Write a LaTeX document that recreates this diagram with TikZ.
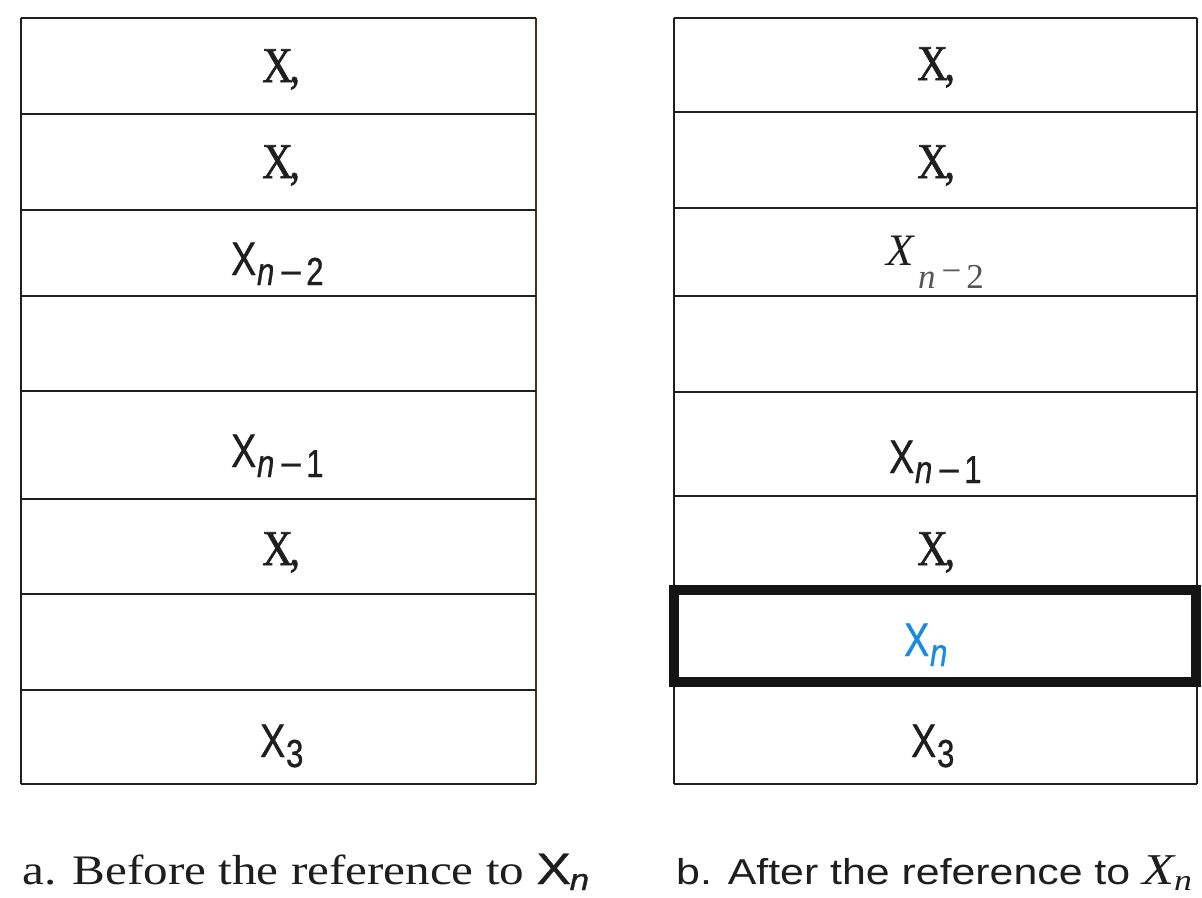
\documentclass[tikz,border=0pt]{standalone}
\usepackage{fontspec}
\setmainfont{Liberation Serif}
\setsansfont{Liberation Sans}
\newfontfamily\boldserif[FakeBold=1.2]{Liberation Serif}
\newfontfamily\boldsans[FakeBold=0.8]{Liberation Sans}
\definecolor{ink}{RGB}{30,30,30}
\definecolor{subgray}{RGB}{85,85,85}
\definecolor{xblue}{RGB}{25,140,225}
\definecolor{olive}{RGB}{60,55,20}
\newcommand{\sansX}[1]{{\boldsans X\kern1pt\raisebox{-10pt}{\fontsize{39}{39}\selectfont #1}}}
\newcommand{\subminus}{\kern9pt\upshape\raisebox{2pt}{\scalebox{1.1}[1]{–}}\kern7pt}
\begin{document}
\begin{tikzpicture}[x=1pt,y=-1pt,
  rule/.style={draw=ink,line width=2.4pt},
  serifx/.style={inner sep=0pt,text=ink,font=\boldserif\fontsize{50}{50}\selectfont,xscale=0.85},
  sansx/.style={inner sep=0pt,text=ink,font=\fontsize{47}{47}\selectfont,xscale=0.8},
  capa/.style={inner sep=0pt,text=ink,font=\fontsize{42}{42}\selectfont,xscale=1.17},
  capb/.style={inner sep=0pt,text=ink,font=\sffamily\fontsize{36}{36}\selectfont,xscale=1.19}]
\useasboundingbox (0,0) rectangle (1202,897);
\fill[white] (0,0) rectangle (1202,897);
% left stack
\draw[rule] (21,18) -- (21,784);
\draw[draw=olive,line width=2.4pt] (536,18) -- (536,784);
\foreach \y in {18,114,210,296,391,499,594,690,784}
  \draw[rule] (21,\y) -- (536,\y);
% right stack
\draw[rule] (674,18) -- (674,784);
\draw[rule] (1197,18) -- (1197,784);
\foreach \y in {18,112,208,296,392,496,784}
  \draw[rule] (674,\y) -- (1197,\y);
\draw[draw=black!92,line width=10pt] (674,590) rectangle (1196,682);
% left labels
\node[serifx,anchor=base west] (a1) at (262,82) {X\kern-4pt,};
\node[serifx,anchor=base west] (a2) at (262,178) {X\kern-4pt,};
\node[sansx,anchor=base west] (a3) at (231,275) {\sansX{\itshape n\subminus 2}};
\node[sansx,anchor=base west] (a5) at (231,467) {\sansX{\itshape n\subminus 1}};
\node[serifx,anchor=base west] (a6) at (262,565) {X\kern-4pt,};
\node[sansx,anchor=base west] (a8) at (260,757) {\sansX{3}};
% right labels
\node[serifx,anchor=base west] (b1) at (917,80) {X\kern-4pt,};
\node[serifx,anchor=base west] (b2) at (917,178) {X\kern-4pt,};
\node[inner sep=0pt,text=ink,font=\fontsize{45}{45}\selectfont\itshape,anchor=base west] (b3) at (886,265) {X};
\node[inner sep=0pt,text=subgray,font=\fontsize{35}{35}\selectfont,anchor=base west] (b3s) at (918,288) {\itshape n\upshape\kern6pt\raisebox{6pt}{−}\kern5pt2};
\node[sansx,anchor=base west] (b5) at (889,473) {\sansX{\itshape n\subminus 1}};
\node[serifx,anchor=base west] (b6) at (917,565) {X\kern-4pt,};
\node[sansx,anchor=base west,text=xblue] (b7) at (904,656) {\sansX{\itshape n}};
\node[sansx,anchor=base west] (b8) at (911,757) {\sansX{3}};
% captions
\node[capa,anchor=base west] (capA) at (22,884) {a. Before the reference to {\boldsans\fontsize{44}{44}\selectfont X\kern-1pt\raisebox{-6pt}{\fontsize{30}{30}\selectfont\itshape n}}};
\node[capb,anchor=base west] (capB) at (676,884) {b. After the reference to {\rmfamily\itshape\fontsize{44}{44}\selectfont X\raisebox{-6pt}{\fontsize{30}{30}\selectfont n}}};
\end{tikzpicture}
\end{document}
